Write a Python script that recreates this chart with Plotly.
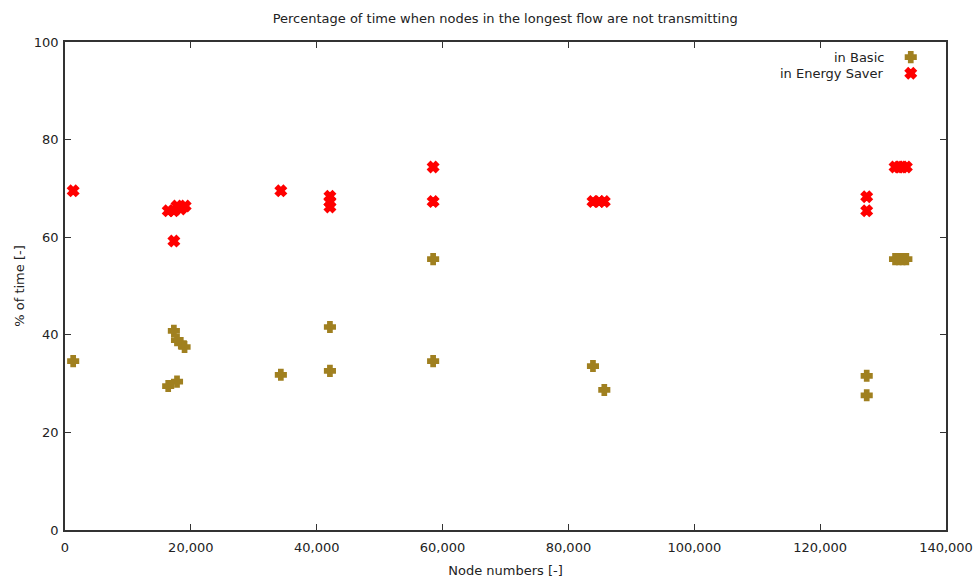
import plotly.graph_objects as go

# Node number (x) and share of time not transmitting (y), per mode
basic_nodes = [1300, 16400, 17800, 17300, 17800, 18400, 19000, 34300, 42100, 42100,
               58500, 58500, 83900, 85700, 127400, 127400, 131900, 132500, 133100, 133700]
basic_pct = [34.6, 29.5, 30.4, 40.8, 38.9, 38.3, 37.5, 31.8, 41.6, 32.6,
             55.5, 34.6, 33.6, 28.7, 31.6, 27.6, 55.5, 55.5, 55.5, 55.5]

saver_nodes = [1300, 16400, 17300, 17800, 18400, 19100, 17300, 34300, 42100, 42100, 42100,
               58500, 58500, 83900, 84900, 85700, 127400, 127400,
               131900, 132500, 133100, 133700]
saver_pct = [69.5, 65.4, 65.4, 66.4, 65.8, 66.4, 59.2, 69.5, 68.4, 67.2, 66.2,
             74.4, 67.3, 67.3, 67.3, 67.3, 68.3, 65.4,
             74.4, 74.4, 74.4, 74.4]

x_ticks = [0, 20000, 40000, 60000, 80000, 100000, 120000, 140000]
y_ticks = [0, 20, 40, 60, 80, 100]

series_names = ["in Basic", "in Energy Saver"]
basic_color = "#a08020"
saver_color = "#ff0000"
font_family = "DejaVu Sans"
font_size = 13

basic_marker = dict(symbol="cross", size=8, color=basic_color,
                    line=dict(color=basic_color, width=2.5))
saver_marker = dict(symbol="x", size=9, color=saver_color,
                    line=dict(color=saver_color, width=2))

fig = go.Figure()
fig.add_trace(go.Scatter(x=basic_nodes, y=basic_pct, mode="markers",
                         name=series_names[0], marker=basic_marker))
fig.add_trace(go.Scatter(x=saver_nodes, y=saver_pct, mode="markers",
                         name=series_names[1], marker=saver_marker))

# Legend keys on an overlay axis (marker to the right of the label)
key_y = [0.969, 0.936]
for marker, yy in zip([basic_marker, saver_marker], key_y):
    fig.add_trace(go.Scatter(x=[0.960], y=[yy], xaxis="x2", yaxis="y2",
                             mode="markers", marker=marker, hoverinfo="skip"))

for label, yy in zip(series_names, key_y):
    fig.add_annotation(x=0.932, y=yy, xref="x2", yref="y2", text=label,
                       showarrow=False, xanchor="right", yanchor="middle",
                       font=dict(family=font_family, size=font_size, color="#222"))

axis_common = dict(
    showline=True, linecolor="#333", linewidth=1.5, mirror="ticks",
    ticks="inside", ticklen=6, tickcolor="#333", tickwidth=1,
    showgrid=False, zeroline=False, automargin=False,
    tickfont=dict(family=font_family, size=font_size, color="#222"),
)

fig.update_layout(
    width=978, height=581,
    margin=dict(l=65, r=32, t=42, b=51),
    plot_bgcolor="white", paper_bgcolor="white",
    title=dict(text="Percentage of time when nodes in the longest flow are not transmitting",
               x=0.5165, xanchor="center", y=0.969, yanchor="middle",
               font=dict(family=font_family, size=font_size, color="#222")),
    xaxis=dict(range=[0, 140000], tickvals=x_ticks,
               ticktext=[f"{v:,}" for v in x_ticks], ticklabelstandoff=5,
               title=dict(text="Node numbers [-]", standoff=12,
                          font=dict(family=font_family, size=font_size, color="#222")),
               **axis_common),
    yaxis=dict(range=[0, 100], tickvals=y_ticks, ticklabelstandoff=2,
               title=dict(text="% of time [-]", standoff=6,
                          font=dict(family=font_family, size=font_size, color="#222")),
               **axis_common),
    xaxis2=dict(range=[0, 1], overlaying="x", visible=False, fixedrange=True),
    yaxis2=dict(range=[0, 1], overlaying="y", visible=False, fixedrange=True),
    showlegend=False,
)

fig.write_html("out.html")
